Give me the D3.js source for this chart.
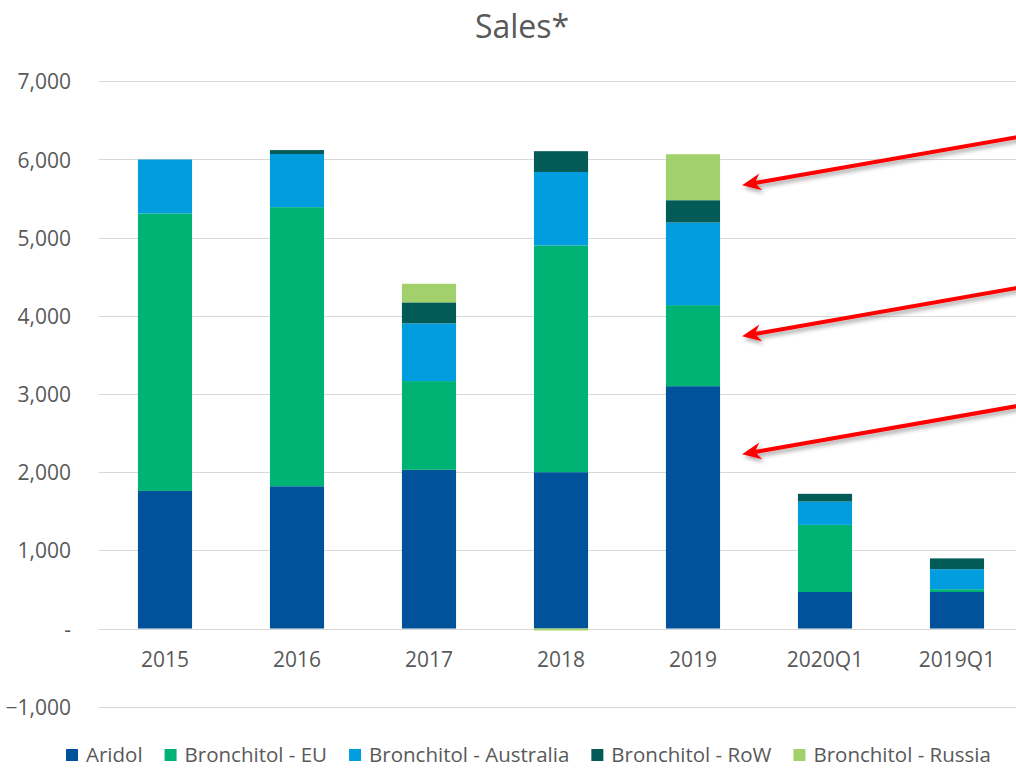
<!DOCTYPE html>
<html><head><meta charset="utf-8">
<script src="https://cdn.jsdelivr.net/npm/d3@7"></script>
<style>
html,body{margin:0;padding:0;background:#fff;overflow:hidden}
text{font-family:"Open Sans","Liberation Sans",Arial,sans-serif;fill:#595959}
</style></head>
<body><svg id="chart" width="1016" height="769"></svg>
<script>
const categories = ["2015","2016","2017","2018","2019","2020Q1","2019Q1"];
const seriesNames = ["Aridol","Bronchitol - EU","Bronchitol - Australia","Bronchitol - RoW","Bronchitol - Russia"];
const aridol    = [1760, 1820, 2030, 2000, 3100, 467, 467];
const bronchEU  = [3550, 3570, 1135, 2900, 1037, 859, 36];
const bronchAus = [690, 680, 738, 940, 1057, 298, 256];
const bronchRoW = [0, 50, 269, 266, 285, 99, 138];
const bronchRus = [0, 0, 238, -25, 588, 0, 0];
const yTicks = [-1000, 0, 1000, 2000, 3000, 4000, 5000, 6000, 7000];
const colors = ["#00529B","#00B274","#019DDE","#035B58","#A2D16B"];
const titleText = "Sales*";

const seriesData = [aridol, bronchEU, bronchAus, bronchRoW, bronchRus];
const rows = categories.map((c,i)=>{
  const r = {cat:c};
  seriesNames.forEach((s,j)=>r[s]=seriesData[j][i]);
  return r;
});

const svg = d3.select("#chart");
const x = d3.scaleBand().domain(categories).range([99,1023]).paddingInner(0.59).paddingOuter(0.295);
const y = d3.scaleLinear().domain([-1000,7000]).range([706.7,81.3]);

// title
svg.append("text").attr("x",522).attr("y",38).attr("text-anchor","middle")
  .style("font-size","32px").text(titleText);

// gridlines
svg.append("g").selectAll("line").data(yTicks).join("line")
  .attr("x1",99).attr("x2",1023)
  .attr("y1",d=>Math.round(y(d))+0.5).attr("y2",d=>Math.round(y(d))+0.5)
  .attr("stroke","#D9D9D9").attr("stroke-width",1);

// y axis labels
const fmt = d3.format(",");
const yAxis = d3.axisLeft(y).tickValues(yTicks).tickSize(0).tickPadding(0)
  .tickFormat(d=> d===0 ? "-" : fmt(d));
const gy = svg.append("g").attr("transform","translate(71,0)").call(yAxis);
gy.select(".domain").remove();
gy.selectAll("text").style("font-size","21px").style("font-family",null).attr("fill",null).attr("dy","0.36em");

// x axis labels
const xAxis = d3.axisBottom(x).tickSize(0).tickPadding(0);
const gx = svg.append("g").attr("transform","translate(0,659)").call(xAxis);
gx.select(".domain").remove();
gx.selectAll("text").style("font-size","21px").style("font-family",null).attr("fill",null).attr("dy","0.36em");

// stacked bars
const stack = d3.stack().keys(seriesNames).offset(d3.stackOffsetDiverging);
const stacked = stack(rows);
svg.append("g").selectAll("g").data(stacked).join("g")
  .attr("fill",(d,i)=>colors[i])
  .selectAll("rect").data(d=>d).join("rect")
  .attr("x",d=>x(d.data.cat))
  .attr("width",x.bandwidth())
  .attr("y",d=>y(Math.max(d[0],d[1])))
  .attr("height",d=>Math.abs(y(d[0])-y(d[1])));

// arrows (annotations pointing at 2019 bar)
const defs = svg.append("defs");
const filt = defs.append("filter").attr("id","shadow").attr("x","-10%").attr("y","-50%").attr("width","120%").attr("height","200%");
filt.append("feDropShadow").attr("dx",2).attr("dy",3).attr("stdDeviation",2).attr("flood-color","#000").attr("flood-opacity",0.35);
const arrowTargets = [5670, 3740, 2230];
const tipX = x("2019") + x.bandwidth() + 22;
const ag = svg.append("g").attr("filter","url(#shadow)");
arrowTargets.forEach(v=>{
  const ty = y(v);
  const sx = 1040, sy = ty - 0.175*(sx - tipX);
  const len = Math.hypot(sx - tipX, sy - ty);
  const ux = (sx - tipX)/len, uy = (sy - ty)/len;   // direction tip -> start
  const px = -uy, py = ux;                           // perpendicular
  const L = 19, W = 8.5, N = 13;
  const bx = tipX + ux*L, by = ty + uy*L;
  const nx = tipX + ux*N, ny = ty + uy*N;
  ag.append("line").attr("x1",sx).attr("y1",sy).attr("x2",nx).attr("y2",ny)
    .attr("stroke","#FF0000").attr("stroke-width",4);
  ag.append("path")
    .attr("d",`M${tipX},${ty} L${bx+px*W},${by+py*W} L${nx},${ny} L${bx-px*W},${by-py*W} Z`)
    .attr("fill","#FF0000");
});

// legend
const lg = svg.append("g").attr("transform","translate(0,755)");
let lx = 66;
seriesNames.forEach((s,i)=>{
  lg.append("rect").attr("x",lx).attr("y",-6).attr("width",12).attr("height",12).attr("fill",colors[i]);
  const t = lg.append("text").attr("x",lx+20).attr("y",0).attr("dy","0.36em").style("font-size","20.5px").text(s);
  const w = t.node().getComputedTextLength();
  lx += 20 + w + 22;
});
</script></body></html>
